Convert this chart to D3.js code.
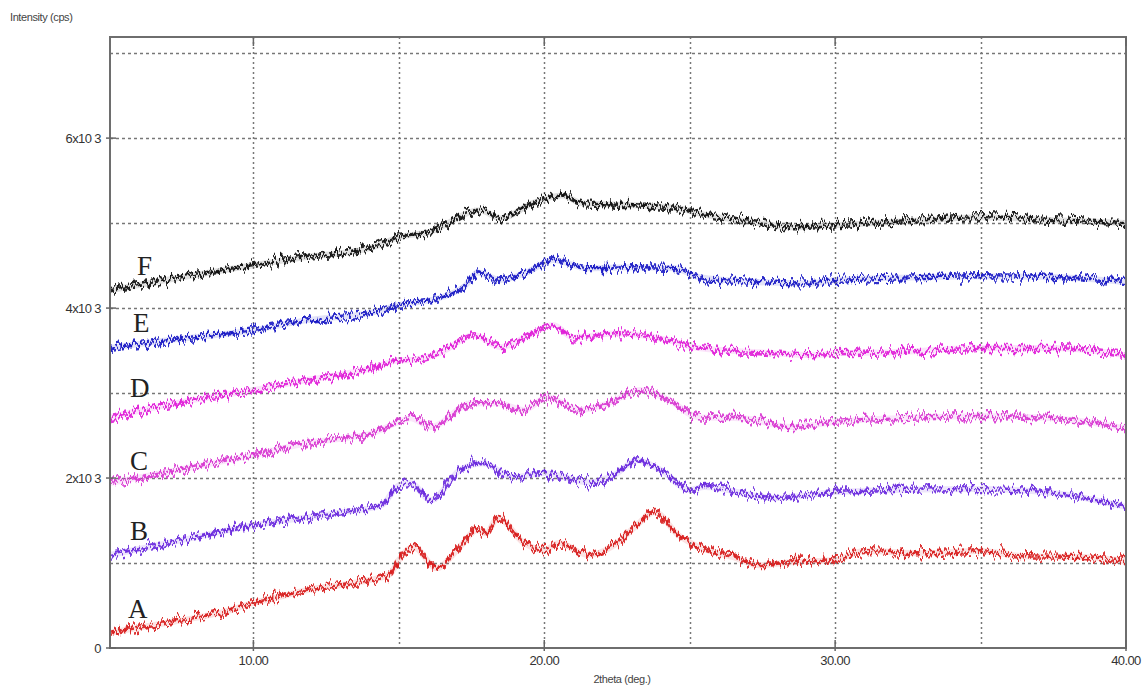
<!DOCTYPE html>
<html>
<head>
<meta charset="utf-8">
<script src="https://cdn.jsdelivr.net/npm/d3@7"></script>
<style>
  body { margin: 0; background: #fff; }
  svg { display: block; }
  .tick-label { font-family: "Liberation Sans", Arial, sans-serif; fill: #333; }
  .trace-label { font-family: "Liberation Serif", "Times New Roman", serif; fill: #222; }
</style>
</head>
<body>
<svg id="chart" width="1148" height="686"></svg>
<script>
// 2theta (deg) / intensity (cps), one array per sample
var seriesA = [[5.07,180],[6,235],[7,295],[8,355],[9,425],[10,530],[11,610],[12,695],[13,740],
  [14,800],[14.7,870],[15,1035],[15.5,1190],[16.3,940],[17,1150],[17.7,1390],[18,1350],[18.4,1530],
  [19.3,1235],[20,1150],[20.5,1235],[21.5,1095],[22.4,1210],[23.1,1420],[23.8,1600],[24.6,1330],
  [25.3,1190],[26.5,1070],[27.4,975],[28.5,1010],[30,1035],[31,1140],[33,1115],[35,1140],
  [36.5,1080],[38.5,1070],[40,1020]];
var seriesB = [[5.07,1095],[7,1230],[10,1445],[12.9,1590],[14.4,1680],[15,1915],[15.4,1940],
  [16.1,1740],[17.1,2095],[17.9,2175],[18.9,2010],[20,2060],[21.5,1950],[22.4,2035],[23.2,2210],
  [24,2095],[25,1860],[25.5,1895],[27.9,1765],[30,1835],[32,1860],[35,1870],[37.5,1825],[40,1660]];
var seriesC = [[5.07,1940],[7,2070],[10,2270],[11.8,2410],[14.1,2530],[15,2660],[15.4,2705],
  [16.1,2600],[17.5,2880],[18.4,2880],[19.3,2800],[20.1,2950],[21.2,2800],[22.2,2880],[23.3,3035],
  [24.3,2915],[25.3,2715],[26.8,2705],[28.5,2600],[30,2660],[33.1,2715],[35,2730],[37.5,2705],[40,2585]];
var seriesD = [[5.07,2715],[7,2860],[10,3035],[11.8,3150],[14.1,3295],[15,3385],[15.4,3390],
  [16.4,3470],[17.6,3680],[18.5,3540],[19.6,3705],[20.3,3800],[21,3655],[22.5,3705],[24.3,3620],
  [25.3,3530],[27.4,3480],[29.3,3445],[30,3470],[32,3480],[35,3530],[37.5,3530],[40,3445]];
var seriesE = [[5.07,3530],[7,3620],[10,3740],[11.8,3855],[14.1,3950],[15,4035],[16.5,4130],
  [17.3,4270],[17.7,4420],[18.5,4330],[19.4,4420],[20.3,4565],[21.5,4470],[23.1,4480],[24.5,4470],
  [25.3,4365],[27.4,4305],[29.1,4290],[30,4330],[33.1,4365],[35,4375],[37.5,4365],[40,4305]];
var seriesF = [[5.07,4210],[7,4330],[10,4505],[11.8,4600],[14.1,4715],[15,4835],[16,4890],
  [17.8,5150],[18.5,5055],[19.6,5235],[20.6,5325],[21.3,5235],[23.1,5210],[24.6,5175],[25.3,5115],
  [27.4,5000],[28.5,4950],[30,4975],[33.1,5035],[35,5070],[37.5,5035],[40,5000]];

var traceNames = ["A", "B", "C", "D", "E", "F"];
var traceColors = ["#d81c1c", "#6a2ade", "#d836d2", "#e01ed8", "#1a1ac4", "#111111"];
var labelPos = [[128, 618], [130, 540], [130, 470], [130, 397], [133, 332], [137, 275]]; // px, baseline

var xTicks = [10, 20, 30, 40];
var xGrid = [10, 15, 20, 25, 30, 35];
var yTicks = [0, 2000, 4000, 6000];
var yTickLabels = ["0", "2x10 3", "4x10 3", "6x10 3"];
var yGrid = [1000, 2000, 3000, 4000, 5000, 6000, 7000];

var allSeries = [seriesA, seriesB, seriesC, seriesD, seriesE, seriesF];

(function () {
    var svg = d3.select("#chart");
    var pl = 110, pr = 1126, pt = 37, pb = 648;

    var x = d3.scaleLinear().domain([5.07, 40]).range([pl, pr]);
    var y = d3.scaleLinear().domain([0, 7190]).range([pb, pt]);

    // jagged noise look for the traces (two passes, different seeds)
    var defs = svg.append("defs");
    [["jitter1", 7], ["jitter2", 23]].forEach(function (p) {
        var f = defs.append("filter").attr("id", p[0])
            .attr("x", "-2%").attr("y", "-20%").attr("width", "104%").attr("height", "140%");
        f.append("feTurbulence").attr("type", "fractalNoise")
            .attr("baseFrequency", "0.3 0.03").attr("numOctaves", 2).attr("seed", p[1]).attr("result", "n");
        f.append("feColorMatrix").attr("in", "n").attr("type", "matrix")
            .attr("values", "0 0 0 0 0.5  0 1 0 0 0  0 0 1 0 0  0 0 0 0 1").attr("result", "m");
        f.append("feDisplacementMap").attr("in", "SourceGraphic").attr("in2", "m")
            .attr("scale", 22).attr("xChannelSelector", "R").attr("yChannelSelector", "G");
    });

    // grid
    svg.append("g").selectAll("line").data(yGrid).enter().append("line")
        .attr("x1", pl).attr("x2", pr)
        .attr("y1", function (d) { return Math.round(y(d)) + 0.5; })
        .attr("y2", function (d) { return Math.round(y(d)) + 0.5; })
        .attr("stroke", "#777").attr("stroke-width", 1.5).attr("stroke-dasharray", "3,3");
    svg.append("g").selectAll("line").data(xGrid).enter().append("line")
        .attr("y1", pt).attr("y2", pb)
        .attr("x1", function (d) { return Math.round(x(d)) + 0.5; })
        .attr("x2", function (d) { return Math.round(x(d)) + 0.5; })
        .attr("stroke", "#777").attr("stroke-width", 1.5).attr("stroke-dasharray", "2,3");

    // traces
    var line = d3.line()
        .x(function (d) { return x(d[0]); })
        .y(function (d) { return y(d[1]); })
        .curve(d3.curveMonotoneX);

    var traces = svg.append("g");
    allSeries.forEach(function (s, i) {
        traces.append("path").attr("d", line(s))
            .attr("fill", "none").attr("stroke", traceColors[i])
            .attr("stroke-opacity", 0.12).attr("stroke-width", 6);
        traces.append("path").attr("d", line(s))
            .attr("fill", "none").attr("stroke", traceColors[i]).attr("stroke-opacity", 0.9)
            .attr("stroke-width", 2.4).attr("filter", "url(#jitter1)");
        traces.append("path").attr("d", line(s))
            .attr("fill", "none").attr("stroke", traceColors[i]).attr("stroke-opacity", 0.9)
            .attr("stroke-width", 2.4).attr("filter", "url(#jitter2)");
    });

    // frame
    svg.append("rect").attr("x", pl).attr("y", pt)
        .attr("width", pr - pl).attr("height", pb - pt)
        .attr("fill", "none").attr("stroke", "#6e6e6e").attr("stroke-width", 2);

    // ticks
    svg.append("g").selectAll("line").data(yTicks).enter().append("line")
        .attr("x1", pl - 4).attr("x2", pl + 6)
        .attr("y1", function (d) { return y(d); }).attr("y2", function (d) { return y(d); })
        .attr("stroke", "#666").attr("stroke-width", 1.5);
    svg.append("g").selectAll("line").data(xTicks).enter().append("line")
        .attr("x1", function (d) { return x(d); }).attr("x2", function (d) { return x(d); })
        .attr("y1", pb - 8).attr("y2", pb + 3)
        .attr("stroke", "#666").attr("stroke-width", 1.5);
    svg.append("g").selectAll("line").data(xTicks).enter().append("line")
        .attr("x1", function (d) { return x(d); }).attr("x2", function (d) { return x(d); })
        .attr("y1", pt).attr("y2", pt + 9)
        .attr("stroke", "#666").attr("stroke-width", 1.5);

    // tick labels
    svg.append("g").selectAll("text").data(yTicks).enter().append("text")
        .attr("class", "tick-label")
        .attr("x", 101).attr("y", function (d) { return y(d) + 5; })
        .attr("text-anchor", "end").attr("font-size", 13).attr("letter-spacing", -0.6)
        .text(function (d, i) { return yTickLabels[i]; });
    svg.append("g").selectAll("text").data(xTicks).enter().append("text")
        .attr("class", "tick-label")
        .attr("x", function (d) { return x(d); }).attr("y", 665)
        .attr("text-anchor", "middle").attr("font-size", 13).attr("letter-spacing", -0.6)
        .text(function (d) { return d.toFixed(2); });

    svg.append("text").attr("class", "tick-label")
        .attr("x", 10).attr("y", 21).attr("font-size", 11).attr("letter-spacing", -0.4)
        .style("fill", "#444").text("Intensity (cps)");
    svg.append("text").attr("class", "tick-label")
        .attr("x", 622).attr("y", 683).attr("text-anchor", "middle")
        .attr("font-size", 11).attr("letter-spacing", -0.4)
        .style("fill", "#444").text("2theta (deg.)");

    // sample letters
    svg.append("g").selectAll("text").data(traceNames).enter().append("text")
        .attr("class", "trace-label")
        .attr("x", function (d, i) { return labelPos[i][0]; })
        .attr("y", function (d, i) { return labelPos[i][1]; })
        .attr("font-size", 27)
        .text(function (d) { return d; });
})();
</script>
</body>
</html>
